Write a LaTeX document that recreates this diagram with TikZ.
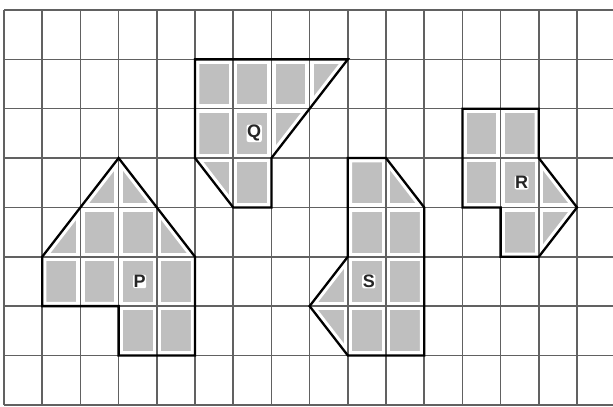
\documentclass[tikz,border=0pt]{standalone}
\usepackage{fontspec}
\setmainfont{Liberation Sans}
\begin{document}
\begin{tikzpicture}[x=38.2pt,y=-49.35pt,
  gridline/.style={draw=black!62,line width=1.5pt},
  outline/.style={draw=black,line width=2.3pt,line join=miter},
  cellfill/.style={fill=black!25},
  gap/.style={draw=white,line width=8.5pt},
  lbl/.style={font=\bfseries\fontsize{18}{18}\selectfont,text=black!85,fill=white,inner sep=0.6pt,rounded corners=2pt},
  shapeQ/.style={insert path={(5,1) -- (9,1) -- (7,3) -- (7,4) -- (6,4) -- (5,3) -- cycle}},
  shapeP/.style={insert path={(3,3) -- (5,5) -- (5,7) -- (3,7) -- (3,6) -- (1,6) -- (1,5) -- cycle}},
  shapeS/.style={insert path={(9,3) -- (10,3) -- (11,4) -- (11,7) -- (9,7) -- (8,6) -- (9,5) -- cycle}},
  shapeR/.style={insert path={(12,2) -- (14,2) -- (14,3) -- (15,4) -- (14,5) -- (13,5) -- (13,4) -- (12,4) -- cycle}}]
\useasboundingbox (-0.1047,-0.2026) rectangle (15.942,8.044);
\fill[white] (-0.1047,-0.2026) rectangle (15.942,8.044);
% shaded cells with white gaps
\foreach \s in {shapeQ,shapeP,shapeS,shapeR}{
  \fill[cellfill,\s];
  \begin{scope}
    \clip[\s];
    \foreach \i in {0,...,15} \draw[gap] (\i,0) -- (\i,8);
    \foreach \j in {0,...,8} \draw[gap] (0,\j) -- (15.95,\j);
    \draw[gap,\s];
  \end{scope}
}
% grid
\foreach \i in {0,...,15} \draw[gridline] (\i,0) -- (\i,8);
\foreach \j in {0,...,8} \draw[gridline] (0,\j) -- (15.95,\j);
% outlines
\foreach \s in {shapeQ,shapeP,shapeS,shapeR} \draw[outline,\s];
% labels
\node[lbl] (lQ) at (6.55,2.5) {Q};
\node[lbl] (lP) at (3.55,5.5) {P};
\node[lbl] (lS) at (9.55,5.5) {S};
\node[lbl] (lR) at (13.55,3.5) {R};
\end{tikzpicture}
\end{document}
